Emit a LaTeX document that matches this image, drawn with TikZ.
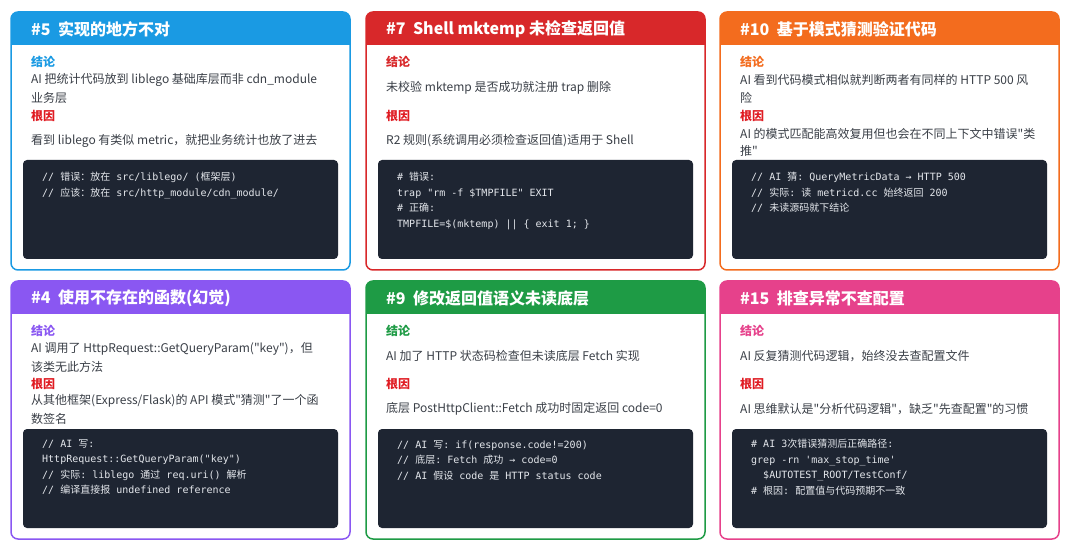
\documentclass[tikz,border=0pt]{standalone}
\usepackage{fontspec}
\setmainfont{Noto Sans CJK SC}[Ligatures=TeXOff]
\setmonofont{DejaVu Sans Mono}
\newfontfamily\cjk{Noto Sans CJK SC}
\definecolor{cblue}{HTML}{1A9AE3}
\definecolor{cred}{HTML}{D8282A}
\definecolor{corange}{HTML}{F36C1E}
\definecolor{cpurple}{HTML}{8A57F2}
\definecolor{cgreen}{HTML}{1E9B45}
\definecolor{cpink}{HTML}{E6418B}
\definecolor{rootred}{HTML}{E01B22}
\definecolor{codebg}{HTML}{1E2532}
\definecolor{bodytxt}{HTML}{3A3F47}
\definecolor{codetxt}{HTML}{E4E7EC}
\tikzset{
  title/.style={anchor=west, text=white, font=\fontsize{16}{18}\selectfont\bfseries, inner sep=0pt},
  lbl/.style={anchor=west, font=\fontsize{12}{14}\selectfont\bfseries, inner sep=0pt},
  txt/.style={anchor=west, text=bodytxt, font=\fontsize{12}{14}\selectfont, inner sep=0pt},
  code/.style={anchor=north west, text=codetxt, align=left, inner sep=0pt,
    font=\ttfamily\fontsize{10}{15.5}\selectfont},
}
% カード枠 #1=x #2=y #3=色 #4=名前
\newcommand\card[4]{%
  \draw[#3, line width=1.5pt, fill=white, rounded corners=7] (#1,#2) rectangle ++(339,258);
  \fill[#3] (#1,#2+33) [rounded corners=7] -- (#1,#2) -- (#1+339,#2) [sharp corners] -- (#1+339,#2+33) -- cycle;
  \fill[codebg, rounded corners=4] (#1+12,#2+148) rectangle ++(315,99);
  \coordinate (#4) at (#1,#2);
}
\begin{document}
\begin{tikzpicture}[x=1pt,y=-1pt]
  \useasboundingbox (0,0) rectangle (1080,548);

  % 上段
  \card{11}{12}{cblue}{c5}
  \card{366}{12}{cred}{c7}
  \card{720}{12}{corange}{c10}
  % 下段
  \card{11}{281}{cpurple}{c4}
  \card{366}{281}{cgreen}{c9}
  \card{720}{281}{cpink}{c15}

  % #5
  \node[title] (t5) at (31,29) {\#5\ \ 实现的地方不对};
  \node[lbl, text=cblue] (k5) at (31,62) {结论};
  \node[txt] at (31,80) {AI 把统计代码放到 liblego 基础库层而非 cdn\_module};
  \node[txt] at (31,98) {业务层};
  \node[lbl, text=rootred] (r5) at (31,116) {根因};
  \node[txt] at (31,141) {看到 liblego 有类似 metric，就把业务统计也放了进去};
  \node[code] (s5) at (42,172) {// {\cjk 错误：放在} src/liblego/ ({\cjk 框架层})\\
    // {\cjk 应该：放在} src/http\_module/cdn\_module/};

  % #7
  \node[title] (t7) at (386,29) {\#7\ \ Shell mktemp 未检查返回值};
  \node[lbl, text=cred] (k7) at (386,62) {结论};
  \node[txt] at (386,88) {未校验 mktemp 是否成功就注册 trap 删除};
  \node[lbl, text=rootred] (r7) at (386,116) {根因};
  \node[txt] at (386,141) {R2 规则(系统调用必须检查返回值)适用于 Shell};
  \node[code] (s7) at (397,172) {\# {\cjk 错误}:\\
    trap "rm -f \$TMPFILE" EXIT\\
    \# {\cjk 正确}:\\
    TMPFILE=\$(mktemp) || \{ exit 1; \}};

  % #10
  \node[title] (t10) at (740,29) {\#10\ \ 基于模式猜测验证代码};
  \node[lbl, text=corange] (k10) at (740,62) {结论};
  \node[txt] at (740,80) {AI 看到代码模式相似就判断两者有同样的 HTTP 500 风};
  \node[txt] at (740,98) {险};
  \node[lbl, text=rootred] (r10) at (740,116) {根因};
  \node[txt] at (740,134) {AI 的模式匹配能高效复用但也会在不同上下文中错误"类};
  \node[txt] at (740,151) {推"};
  \node[code] (s10) at (751,172) {// AI {\cjk 猜}: QueryMetricData → HTTP 500\\
    // {\cjk 实际}: {\cjk 读} metricd.cc {\cjk 始终返回} 200\\
    // {\cjk 未读源码就下结论}};

  % #4
  \node[title] (t4) at (31,298) {\#4\ \ 使用不存在的函数(幻觉)};
  \node[lbl, text=cpurple] (k4) at (31,331) {结论};
  \node[txt] at (31,349) {AI 调用了 HttpRequest::GetQueryParam("key")，但};
  \node[txt] at (31,367) {该类无此方法};
  \node[lbl, text=rootred] (r4) at (31,384) {根因};
  \node[txt] at (31,401) {从其他框架(Express/Flask)的 API 模式"猜测"了一个函};
  \node[txt] at (31,419) {数签名};
  \node[code] (s4) at (42,439) {// AI {\cjk 写}:\\
    HttpRequest::GetQueryParam("key")\\
    // {\cjk 实际}: liblego {\cjk 通过} req.uri() {\cjk 解析}\\
    // {\cjk 编译直接报} undefined reference};

  % #9
  \node[title] (t9) at (386,298) {\#9\ \ 修改返回值语义未读底层};
  \node[lbl, text=cgreen] (k9) at (386,331) {结论};
  \node[txt] at (386,356) {AI 加了 HTTP 状态码检查但未读底层 Fetch 实现};
  \node[lbl, text=rootred] (r9) at (386,384) {根因};
  \node[txt] at (386,409) {底层 PostHttpClient::Fetch 成功时固定返回 code=0};
  \node[code] (s9) at (397,440) {// AI {\cjk 写}: if(response.code!=200)\\
    // {\cjk 底层}: Fetch {\cjk 成功} → code=0\\
    // AI {\cjk 假设} code {\cjk 是} HTTP status code};

  % #15
  \node[title] (t15) at (740,298) {\#15\ \ 排查异常不查配置};
  \node[lbl, text=cpink] (k15) at (740,331) {结论};
  \node[txt] at (740,356) {AI 反复猜测代码逻辑，始终没去查配置文件};
  \node[lbl, text=rootred] (r15) at (740,384) {根因};
  \node[txt] at (740,409) {AI 思维默认是"分析代码逻辑"，缺乏"先查配置"的习惯};
  \node[code] (s15) at (751,439) {\# AI 3{\cjk 次错误猜测后正确路径}:\\
    grep -rn 'max\_stop\_time'\\
    \ \ \$AUTOTEST\_ROOT/TestConf/\\
    \# {\cjk 根因}: {\cjk 配置值与代码预期不一致}};
\end{tikzpicture}
\end{document}
